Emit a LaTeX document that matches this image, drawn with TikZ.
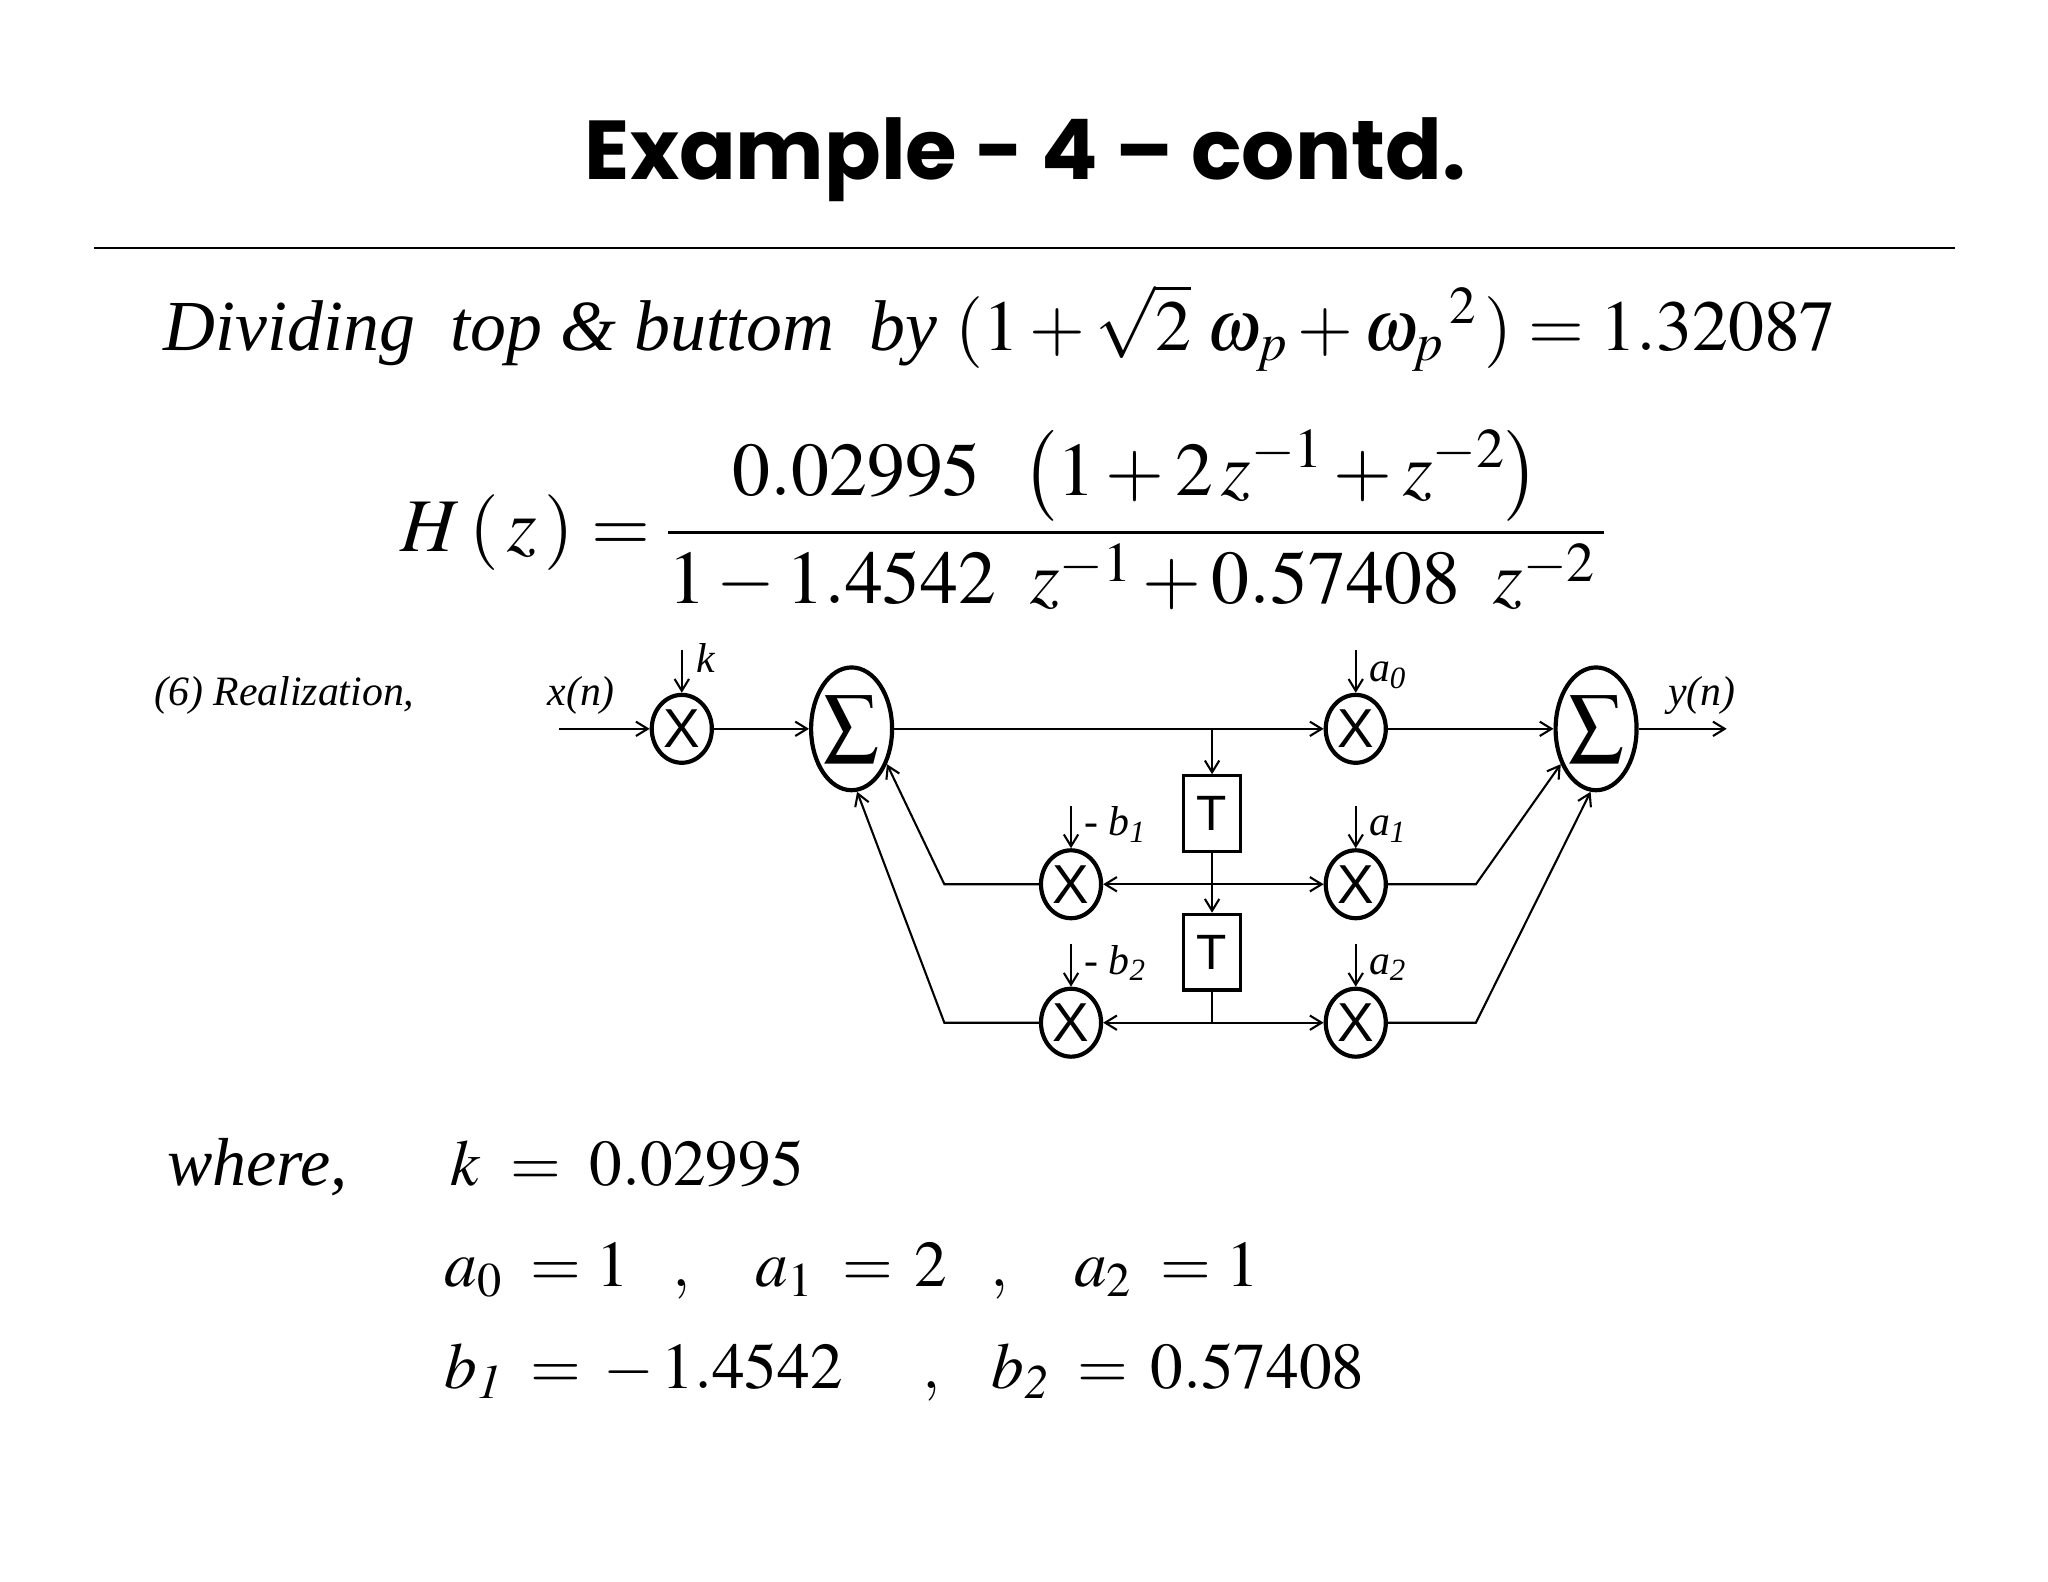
\documentclass[tikz,border=0pt]{standalone}
\usepackage{amsmath}
\usepackage{mathptmx}
\usepackage{fontspec}
\setmainfont{Liberation Serif}
\newfontfamily\titlefont{Poppins}
\newfontfamily\sansf{Liberation Sans}
\usetikzlibrary{arrows.meta,shapes.geometric}
\begin{document}
\begin{tikzpicture}[x=1pt,y=-1pt,
  >={Straight Barb[length=9pt,width=11pt]},
  wire/.style={line width=1.6pt},
  mul/.style={ellipse,draw,line width=3.2pt,minimum width=46pt,minimum height=52pt,inner sep=0pt,font=\sansf\fontsize{42}{42}\selectfont},
  summ/.style={ellipse,draw,line width=3.2pt,minimum width=62pt,minimum height=94pt,inner sep=0pt,font=\fontsize{60}{60}\selectfont},
  tbox/.style={rectangle,draw,line width=2.4pt,minimum width=44pt,minimum height=58pt,inner sep=0pt,font=\sansf\fontsize{38}{38}\selectfont},
  lbl/.style={font=\fontsize{32}{32}\selectfont\itshape,inner sep=0pt}]
\useasboundingbox (0,0) rectangle (1568,1211);
\fill[white] (0,0) rectangle (1568,1211);
\node[font=\titlefont\bfseries\fontsize{64}{64}\selectfont] (title) at (785,122) {Example - 4 – contd.};
\draw[line width=1.6pt] (72,190) coordinate (l1) -- (1497,190) coordinate (l2);
\node[anchor=base west,inner sep=0pt,font=\fontsize{55}{58}\selectfont] (div) at (125,268)
 {\textit{Dividing\ \ top \& buttom\ \ by} $(1+\sqrt{2}\;\omega_p+{\omega_p}^{\,2}\,)=1.32087$};
\node[font=\fontsize{58}{60}\selectfont] (hz) at (768,398)
 {$H\,(\,z\,)=\dfrac{0.02995\;\;\left(1+2\,z^{-1}+z^{-2}\right)}{1-1.4542\;\;z^{-1}+0.57408\;\;z^{-2}\,}$};
\node[anchor=base west,lbl] (real) at (118,540) {(6) Realization,};

% diagram nodes
\node[mul] (mk) at (522,558) {X};
\node[summ] (s1) at (652,558) {$\sum$};
\node[mul] (m0) at (1038,558) {X};
\node[summ] (s2) at (1222,558) {$\sum$};
\node[tbox] (t1) at (928,623) {T};
\node[tbox] (t2) at (928,729) {T};
\node[mul] (mb1) at (820,677) {X};
\node[mul] (ma1) at (1038,677) {X};
\node[mul] (mb2) at (820,783) {X};
\node[mul] (ma2) at (1038,783) {X};

\coordinate (xin) at (428,558);
\coordinate (yout) at (1322,558);
\coordinate (br0) at (928,558);
\coordinate (br1) at (928,677);
\coordinate (br2) at (928,783);
\coordinate (lb1) at (723,677);
\coordinate (lb2) at (723,783);
\coordinate (ra1) at (1130,677);
\coordinate (ra2) at (1130,783);
\coordinate (kk) at (522,498);
\coordinate (k0) at (1038,498);
\coordinate (kb1) at (820,617);
\coordinate (ka1) at (1038,617);
\coordinate (kb2) at (820,723);
\coordinate (ka2) at (1038,723);

\node[lbl,anchor=base] (xn) at (445,540) {x(n)};
\node[lbl,anchor=base] (yn) at (1303,540) {y(n)};
\node[lbl,anchor=base west] (lk) at (533,515) {k};
\node[lbl,anchor=base west] (la0) at (1048,522) {a\textsubscript{0}};
\node[lbl,anchor=base west] (la1) at (1048,640) {a\textsubscript{1}};
\node[lbl,anchor=base west] (la2) at (1048,746) {a\textsubscript{2}};
\node[lbl,anchor=base west] (lb1t) at (830,640) {- b\textsubscript{1}};
\node[lbl,anchor=base west] (lb2t) at (830,746) {- b\textsubscript{2}};

\begin{scope}[wire]
\draw[->] (xin) -- (mk);
\draw[->] (mk) -- (s1);
\draw[->] (s1) -- (m0);
\draw[->] (br0) -- (t1.north);
\draw[->] (m0) -- (s2);
\draw[->] (s2) -- (yout);
\draw[->] (t1.south) -- (t2.north);
\draw (t2.south) -- (br2);
\draw[->] (br1) -- (mb1);
\draw[->] (br1) -- (ma1);
\draw[->] (br2) -- (mb2);
\draw[->] (br2) -- (ma2);
\draw[->] (mb1) -- (lb1) -- (s1.-45);
\draw[->] (mb2) -- (lb2) -- (s1.-85);
\draw[->] (ma1) -- (ra1) -- (s2.-135);
\draw[->] (ma2) -- (ra2) -- (s2.-95);
\draw[->] (kk) -- (mk);
\draw[->] (k0) -- (m0);
\draw[->] (kb1) -- (mb1);
\draw[->] (ka1) -- (ma1);
\draw[->] (kb2) -- (mb2);
\draw[->] (ka2) -- (ma2);
\end{scope}

\node[anchor=base west,inner sep=0pt,font=\fontsize{52}{54}\selectfont\itshape] (wh) at (128,908) {where,};
\node[anchor=base west,inner sep=0pt,font=\fontsize{50}{54}\selectfont] (eqk) at (345,908) {$k\;=\;0.02995$};
\node[anchor=base west,inner sep=0pt,font=\fontsize{50}{54}\selectfont] (eqa) at (340,985) {$a_{0}\;=1\;\;\;,\;\;\;\; a_{1}\;=\,2\;\;\;,\;\;\;\; a_{2}\;=1$};
\node[anchor=base west,inner sep=0pt,font=\fontsize{50}{54}\selectfont] (eqb) at (340,1063) {$b_{\mathit{1}}\;=\,-\,1.4542\quad\;,\;\;\; b_{\mathit{2}}\;=\,0.57408$};
\end{tikzpicture}
\end{document}
